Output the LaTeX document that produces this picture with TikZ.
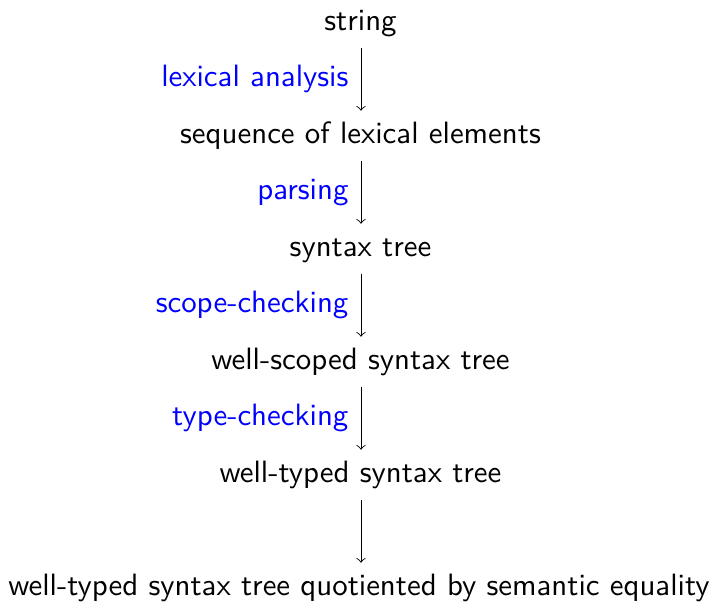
\documentclass[tikz,border=0pt]{standalone}
\usepackage{xcolor}
\begin{document}
\begin{tikzpicture}[x=0.35pt,y=-0.35pt,
  obj/.style={anchor=base,inner sep=0pt,font=\fontsize{10.8}{13}\selectfont\sffamily},
  lbl/.style={anchor=base east,inner sep=0pt,text=blue,font=\fontsize{10.8}{13}\selectfont\sffamily},
  arr/.style={->,line width=0.3pt}]
\useasboundingbox (0,0) rectangle (717,603);
\node[obj] (n0) at (360.5,30.7) {string};
\node[obj] (n1) at (360.5,143.7) {sequence of lexical elements};
\node[obj] (n2) at (360.5,256.7) {syntax tree};
\node[obj] (n3) at (360.5,369.7) {well-scoped syntax tree};
\node[obj] (n4) at (360.5,482.7) {well-typed syntax tree};
\node[obj] (n5) at (359,595.7) {well-typed syntax tree quotiented by semantic equality};
\coordinate (a0) at (361,47.7);   \coordinate (b0) at (361,110.7);
\coordinate (a1) at (361,160.7);  \coordinate (b1) at (361,223.7);
\coordinate (a2) at (361,273.7);  \coordinate (b2) at (361,336.7);
\coordinate (a3) at (361,386.7);  \coordinate (b3) at (361,449.7);
\coordinate (a4) at (361,499.7);  \coordinate (b4) at (361,562.7);
\draw[arr] (a0) -- (b0);
\draw[arr] (a1) -- (b1);
\draw[arr] (a2) -- (b2);
\draw[arr] (a3) -- (b3);
\draw[arr] (a4) -- (b4);
\node[lbl] (l0) at (349,86.7) {lexical analysis};
\node[lbl] (l1) at (349,199.7) {parsing};
\node[lbl] (l2) at (349,312.7) {scope-checking};
\node[lbl] (l3) at (349,425.7) {type-checking};
\end{tikzpicture}
\end{document}
